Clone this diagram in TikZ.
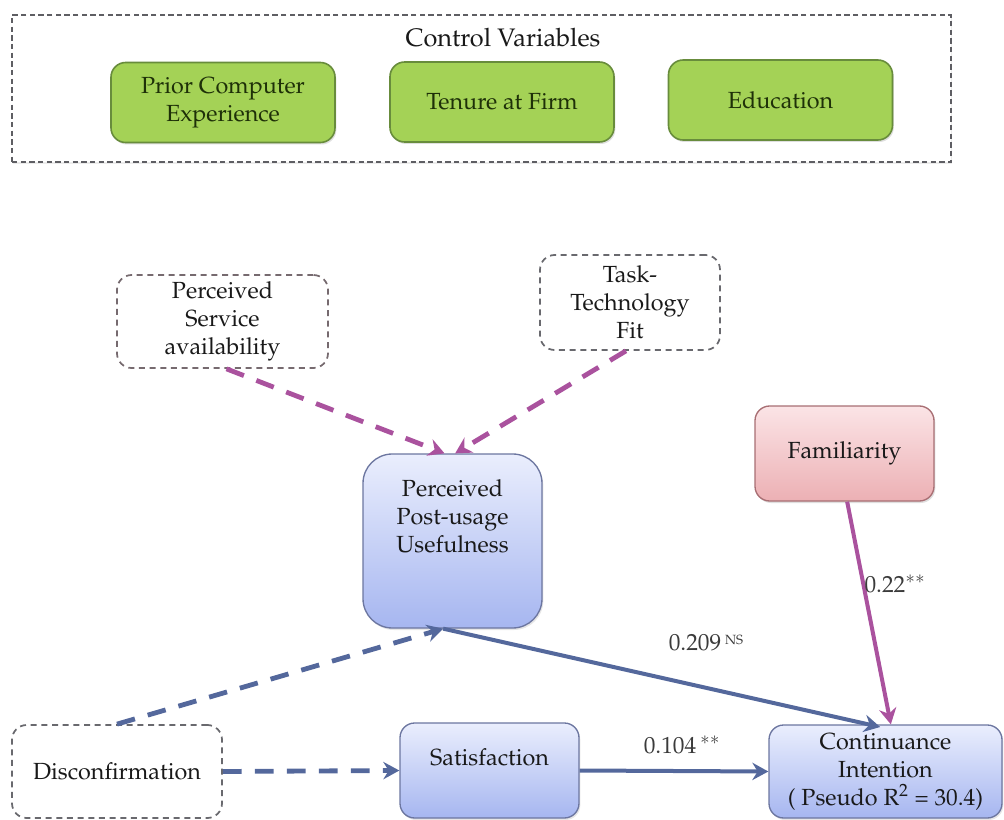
\documentclass[tikz,border=0pt]{standalone}
\usepackage[T1]{fontenc}
\usepackage{mathpazo}
\usetikzlibrary{arrows.meta,shadows}

\definecolor{grnfill}{RGB}{164,210,86}
\definecolor{grnline}{RGB}{104,140,60}
\definecolor{grntext}{RGB}{30,48,8}
\definecolor{bluetop}{RGB}{234,238,253}
\definecolor{bluebot}{RGB}{166,182,240}
\definecolor{blueline}{RGB}{108,118,160}
\definecolor{pinktop}{RGB}{251,228,230}
\definecolor{pinkbot}{RGB}{236,176,180}
\definecolor{pinkline}{RGB}{168,110,115}
\definecolor{arrblue}{RGB}{84,104,156}
\definecolor{arrmag}{RGB}{170,82,158}
\definecolor{dashgray}{RGB}{105,105,110}
\definecolor{txt}{RGB}{25,25,25}

\tikzset{
  base/.style={align=center, text=txt, inner sep=0pt,
    font=\fontsize{17.5}{21}\selectfont},
  greenbox/.style={base, rounded corners=11pt, draw=grnline, line width=1.2pt,
    fill=grnfill, text=grntext, minimum width=168pt, minimum height=60pt,
    drop shadow={opacity=0.25, shadow xshift=1pt, shadow yshift=-1.5pt}},
  bluebox/.style={base, rounded corners=11pt, draw=blueline, line width=1pt,
    top color=bluetop, bottom color=bluebot,
    drop shadow={opacity=0.2, shadow xshift=1pt, shadow yshift=-1.5pt}},
  pinkbox/.style={base, rounded corners=11pt, draw=pinkline, line width=1pt,
    top color=pinktop, bottom color=pinkbot,
    drop shadow={opacity=0.25, shadow xshift=1pt, shadow yshift=-1.5pt}},
  dashbox/.style={base, rounded corners=11pt, draw=dashgray, line width=1.3pt,
    dash pattern=on 4.5pt off 3.5pt},
  tip/.style={-{Stealth[length=12pt,width=13pt,inset=4pt]}},
  dashmag/.style={tip, draw=arrmag, line width=3.6pt, dash pattern=on 14pt off 10pt},
  dashblue/.style={tip, draw=arrblue, line width=3.6pt, dash pattern=on 14pt off 10pt},
  solidblue/.style={tip, draw=arrblue, line width=3pt},
  solidmag/.style={tip, draw=arrmag, line width=3pt},
  coef/.style={base, text=txt!85}
}

\begin{document}
\begin{tikzpicture}[x=0.75pt,y=-0.75pt]
\useasboundingbox (0,0) rectangle (1004,820);

% control variables panel
\node[draw=dashgray!90!black, line width=1.2pt, dash pattern=on 4pt off 2.5pt,
      minimum width=939*0.75pt, minimum height=147*0.75pt,
      drop shadow={opacity=0.15, shadow xshift=1pt, shadow yshift=-1.5pt},
      fill=white] (ctrl) at (481.5,88.5) {};
\node[base, font=\fontsize{19}{21}\selectfont] (ctrltitle) at (503,38) {Control Variables};
\node[greenbox] (pce) at (223,102.5) {Prior Computer\\Experience};
\node[greenbox] (tenure) at (502,102) {Tenure at Firm};
\node[greenbox] (edu) at (780.5,100) {Education};

% antecedents
\node[dashbox, draw=dashgray!80!pinkline, minimum width=211*0.75pt, minimum height=93*0.75pt]
  (psa) at (222.5,321.5) {Perceived\\Service\\availability};
\node[dashbox, minimum width=180*0.75pt, minimum height=95*0.75pt]
  (ttf) at (630,302.5) {Task-\\Technology\\Fit};

% main constructs
\node[bluebox, rounded corners=22pt, minimum width=179*0.75pt, minimum height=174*0.75pt]
  (ppu) at (452.5,541) {};
\node[base] (ppulabel) at (452.5,516) {Perceived\\Post-usage\\Usefulness};
\node[pinkbox, minimum width=179*0.75pt, minimum height=95*0.75pt]
  (fam) at (844.5,453.5) {Familiarity};
\node[dashbox, minimum width=210*0.75pt, minimum height=93*0.75pt]
  (dis) at (117,771.5) {Disconfirmation};
\node[bluebox, minimum width=179*0.75pt, minimum height=95*0.75pt]
  (sat) at (489.5,770.5) {};
\node[base] (satlabel) at (489.5,757) {Satisfaction};
\node[bluebox, minimum width=233*0.75pt, minimum height=93*0.75pt]
  (ci) at (885.5,771.5) {Continuance\\Intention\\( Pseudo R$^2$ = 30.4)};

% paths
\draw[dashmag] ([xshift=3pt]psa.south) -- ([xshift=-6pt]ppu.north);
\draw[dashmag] ([xshift=-3pt]ttf.south) -- ([xshift=2pt]ppu.north);
\draw[dashblue] (dis.north) -- ([xshift=-7pt]ppu.south);
\draw[dashblue] (dis.east) -- (sat.west);
\draw[solidblue] ([xshift=-7pt]ppu.south) -- ([xshift=-4pt,yshift=-2pt]ci.north);
\draw[solidblue] (sat.east) -- (ci.west);
\draw[solidmag] ([xshift=2pt]fam.south) -- ([xshift=4pt]ci.north);

% path coefficients
\node[coef] (c209) at (706,643) {0.209\,\raisebox{0.6ex}{\fontsize{10}{10}\selectfont NS}};
\node[coef] (c104) at (682,745) {0.104\,$^{**}$};
\node[coef] (c22) at (895,584) {0.22$^{**}$};
\end{tikzpicture}
\end{document}
